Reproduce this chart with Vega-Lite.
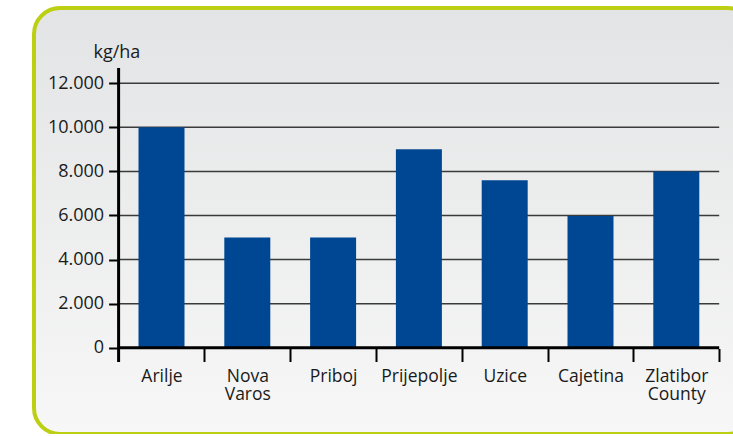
{
  "$schema": "https://vega.github.io/schema/vega-lite/v6.json",
  "autosize": {"type": "none"},
  "padding": {"left": 34, "top": 8, "right": 0, "bottom": 0},
  "width": 720,
  "height": 426,
  "background": "#ffffff",
  "config": {
    "font": "Open Sans",
    "view": {
      "stroke": "#bccf12",
      "strokeWidth": 4,
      "cornerRadius": 26,
      "fill": {"gradient": "linear", "x1": 0, "y1": 0, "x2": 0, "y2": 1, "stops": [{"offset": 0, "color": "#e3e4e5"}, {"offset": 1, "color": "#f7f7f7"}]}
    }
  },
  "data": {
    "values": [
      {"city": "Arilje", "value": 10000},
      {"city": "Nova Varos", "value": 5000},
      {"city": "Priboj", "value": 5000},
      {"city": "Prijepolje", "value": 9000},
      {"city": "Uzice", "value": 7600},
      {"city": "Cajetina", "value": 5980},
      {"city": "Zlatibor County", "value": 8000}
    ]
  },
  "layer": [
    {
      "data": {"values": [{"v": 2000}, {"v": 4000}, {"v": 6000}, {"v": 8000}, {"v": 10000}, {"v": 12000}]},
      "mark": {"type": "rule", "color": "#3a3a3a", "strokeWidth": 1.5},
      "encoding": {
        "y": {
          "field": "v", "type": "quantitative",
          "scale": {"domain": [-3909, 15410], "nice": false, "zero": false},
          "axis": {
            "title": "kg/ha", "titleAngle": 0, "titleAlign": "left", "titleBaseline": "alphabetic",
            "titleX": -25.6, "titleY": 49.3, "titleFont": "Open Sans", "titleFontSize": 18, "titleFontWeight": "normal", "titleColor": "#1a1a1a",
            "values": [0, 2000, 4000, 6000, 8000, 10000, 12000],
            "labelExpr": "replace(format(datum.value, ','), ',', '.')",
            "labelFont": "Open Sans", "labelFontSize": 18, "labelColor": "#1a1a1a", "labelPadding": 5,
            "tickSize": 10, "tickWidth": 2, "tickColor": "#000000",
            "domain": false, "grid": false, "offset": -84.6
          }
        },
        "x": {
          "datum": "Arilje", "type": "nominal", "bandPosition": -0.4326,
          "scale": {"type": "band", "domain": ["Arilje", "Nova Varos", "Priboj", "Prijepolje", "Uzice", "Cajetina", "Zlatibor County"], "paddingInner": 0.4639, "paddingOuter": 0.92775, "align": 0.6564, "round": false},
          "axis": {
            "title": null, "orient": "bottom", "offset": -85.5, "domain": false, "grid": false,
            "bandPosition": 1, "tickOffset": 19.9, "labelOffset": -19.9, "tickExtra": false,
            "tickSize": 13, "tickWidth": 2, "tickColor": "#000000",
            "labelExpr": "split(datum.label, ' ')", "labelFont": "Open Sans", "labelFontSize": 17.5, "labelColor": "#1a1a1a",
            "labelPadding": 6, "labelLineHeight": 18, "labelAngle": 0
          }
        },
        "x2": {"datum": "Zlatibor County", "bandPosition": 1.4326}
      }
    },
    {
      "mark": {"type": "bar", "color": "#004793"},
      "encoding": {
        "x": {
          "field": "city", "type": "nominal", "title": null,
          "scale": {"type": "band", "domain": ["Arilje", "Nova Varos", "Priboj", "Prijepolje", "Uzice", "Cajetina", "Zlatibor County"], "paddingInner": 0.4639, "paddingOuter": 0.92775, "align": 0.6564, "round": false}
        },
        "y": {
          "field": "value", "type": "quantitative", "title": "kg/ha",
          "scale": {"domain": [-3909, 15410], "nice": false, "zero": false}
        }
      }
    },
    {
      "data": {"values": [{}]},
      "mark": {"type": "rule", "color": "#000000", "strokeWidth": 3},
      "encoding": {
        "y": {"datum": 0, "type": "quantitative", "title": "kg/ha", "scale": {"domain": [-3909, 15410], "nice": false, "zero": false}},
        "x": {"datum": "Arilje", "type": "nominal", "title": null, "bandPosition": -0.4326},
        "x2": {"datum": "Zlatibor County", "bandPosition": 1.4326}
      }
    },
    {
      "data": {"values": [{}]},
      "mark": {"type": "rule", "color": "#000000", "strokeWidth": 3},
      "encoding": {
        "x": {"datum": "Arilje", "type": "nominal", "title": null, "bandPosition": -0.4326},
        "y": {"datum": 12689, "type": "quantitative", "title": "kg/ha", "scale": {"domain": [-3909, 15410], "nice": false, "zero": false}},
        "y2": {"datum": -644}
      }
    }
  ]
}
